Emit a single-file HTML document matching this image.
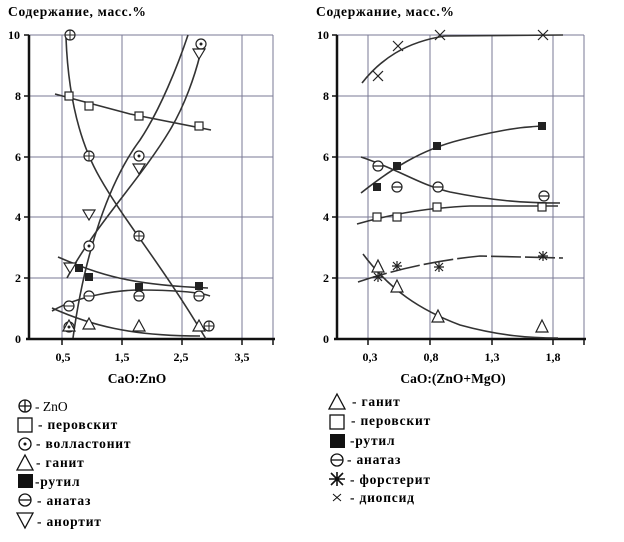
<!DOCTYPE html>
<html><head><meta charset="utf-8"><style>
html,body{margin:0;padding:0;background:#fff;}
svg{display:block;font-family:"Liberation Serif",serif;font-weight:bold;}
</style></head><body>
<svg width="624" height="542" viewBox="0 0 624 542" xmlns="http://www.w3.org/2000/svg">
<g font-size="13.5" fill="#000" letter-spacing="0.7">
<text x="8" y="16">Содержание, масс.%</text>
<text x="316" y="16">Содержание, масс.%</text>
</g>
<!-- LEFT grid -->
<g stroke="#7a7a95" stroke-width="1" fill="none">
<line x1="29" y1="35" x2="273" y2="35"/><line x1="29" y1="96" x2="273" y2="96"/><line x1="29" y1="157" x2="273" y2="157"/><line x1="29" y1="217" x2="273" y2="217"/><line x1="29" y1="278" x2="273" y2="278"/>
<line x1="62" y1="35" x2="62" y2="339"/><line x1="122" y1="35" x2="122" y2="339"/><line x1="182" y1="35" x2="182" y2="339"/><line x1="242" y1="35" x2="242" y2="339"/><line x1="273" y1="35" x2="273" y2="339"/>
</g>
<g stroke="#111" stroke-width="2.5" fill="none">
<line x1="29" y1="35" x2="29" y2="340"/><line x1="26" y1="339" x2="275" y2="339"/>
</g>
<g stroke="#111" stroke-width="1.5">
<line x1="24" y1="35" x2="29" y2="35"/><line x1="24" y1="96" x2="29" y2="96"/><line x1="24" y1="157" x2="29" y2="157"/><line x1="24" y1="217" x2="29" y2="217"/><line x1="24" y1="278" x2="29" y2="278"/>
<line x1="62" y1="339" x2="62" y2="345"/><line x1="122" y1="339" x2="122" y2="345"/><line x1="182" y1="339" x2="182" y2="345"/><line x1="242" y1="339" x2="242" y2="345"/><line x1="273" y1="339" x2="273" y2="345"/>
</g>
<g font-size="12" text-anchor="end">
<text x="20" y="39">10</text><text x="21" y="100">8</text><text x="21" y="161">6</text><text x="21" y="221">4</text><text x="21" y="282">2</text><text x="21" y="343">0</text>
</g>
<g font-size="12" text-anchor="middle">
<text x="63" y="361">0,5</text><text x="122" y="361">1,5</text><text x="181" y="361">2,5</text><text x="242" y="361">3,5</text>
<text x="137" y="383" font-size="13.5">CaO:ZnO</text>
</g>
<!-- left curves -->
<g stroke="#333" stroke-width="1.6" fill="none">
<path d="M66,38 C68,90 78,140 100,178 C125,222 160,262 206,339"/>
<path d="M55,94 L130,114 L211,130"/>
<path d="M73,338 C85,250 110,180 140,140 C160,110 178,65 188,35"/>
<path d="M67,278 C95,225 140,180 170,130 C185,105 195,75 200,55"/>
<path d="M58,257 C100,275 130,285 208,288"/>
<path d="M52,311 C80,295 120,290 140,290 C170,290 200,292 210,296"/>
<path d="M52,308 C90,325 130,336 200,336"/>
</g>
<!-- left markers -->
<g stroke="#222" stroke-width="1.2" fill="#fff">
<circle cx="70" cy="35" r="5"/><circle cx="89" cy="156" r="5"/><circle cx="139" cy="236" r="5"/><circle cx="209" cy="326" r="5"/>
<rect x="65" y="92" width="8" height="8"/><rect x="85" y="102" width="8" height="8"/><rect x="135" y="112" width="8" height="8"/><rect x="195" y="122" width="8" height="8"/>
<circle cx="201" cy="44" r="5"/><circle cx="139" cy="156" r="5"/><circle cx="89" cy="246" r="5"/><circle cx="69" cy="327" r="5"/>
<path d="M64,263 L76,263 L70,273 Z"/><path d="M83,210 L95,210 L89,220 Z"/><path d="M133,164 L145,164 L139,174 Z"/><path d="M193,49 L205,49 L199,59 Z"/>
<circle cx="69" cy="306" r="5"/><circle cx="89" cy="296" r="5"/><circle cx="139" cy="296" r="5"/><circle cx="199" cy="296" r="5"/>
<path d="M69,320 L75,331 L63,331 Z"/><path d="M89,318 L95,329 L83,329 Z"/><path d="M139,320 L145,331 L133,331 Z"/><path d="M199,320 L205,331 L193,331 Z"/>
</g>
<g fill="#222"><rect x="75" y="264" width="8" height="8"/><rect x="85" y="273" width="8" height="8"/><rect x="135" y="283" width="8" height="8"/><rect x="195" y="282" width="8" height="8"/>
<circle cx="201" cy="44" r="1.5"/><circle cx="139" cy="156" r="1.5"/><circle cx="89" cy="246" r="1.5"/><circle cx="69" cy="327" r="1.5"/></g>
<g stroke="#222" stroke-width="1"><path d="M65,35h10M70,30v10M84,156h10M89,151v10M134,236h10M139,231v10M204,326h10M209,321v10"/>
<path d="M64,306h10M84,296h10M134,296h10M194,296h10"/></g>

<!-- RIGHT grid -->
<g stroke="#7a7a95" stroke-width="1" fill="none">
<line x1="337" y1="35" x2="584" y2="35"/><line x1="337" y1="96" x2="584" y2="96"/><line x1="337" y1="157" x2="584" y2="157"/><line x1="337" y1="217" x2="584" y2="217"/><line x1="337" y1="278" x2="584" y2="278"/>
<line x1="368" y1="35" x2="368" y2="339"/><line x1="430" y1="35" x2="430" y2="339"/><line x1="492" y1="35" x2="492" y2="339"/><line x1="553" y1="35" x2="553" y2="339"/><line x1="584" y1="35" x2="584" y2="339"/>
</g>
<g stroke="#111" stroke-width="2.5" fill="none">
<line x1="337" y1="35" x2="337" y2="340"/><line x1="334" y1="339" x2="586" y2="339"/>
</g>
<g stroke="#111" stroke-width="1.5">
<line x1="332" y1="35" x2="337" y2="35"/><line x1="332" y1="96" x2="337" y2="96"/><line x1="332" y1="157" x2="337" y2="157"/><line x1="332" y1="217" x2="337" y2="217"/><line x1="332" y1="278" x2="337" y2="278"/>
<line x1="368" y1="339" x2="368" y2="345"/><line x1="430" y1="339" x2="430" y2="345"/><line x1="492" y1="339" x2="492" y2="345"/><line x1="553" y1="339" x2="553" y2="345"/><line x1="584" y1="339" x2="584" y2="345"/>
</g>
<g font-size="12" text-anchor="end">
<text x="329" y="39">10</text><text x="329" y="100">8</text><text x="329" y="161">6</text><text x="329" y="221">4</text><text x="329" y="282">2</text><text x="329" y="343">0</text>
</g>
<g font-size="12" text-anchor="middle">
<text x="370" y="361">0,3</text><text x="431" y="361">0,8</text><text x="492" y="361">1,3</text><text x="553" y="361">1,8</text>
<text x="453" y="383" font-size="13.5">CaO:(ZnO+MgO)</text>
</g>
<g stroke="#333" stroke-width="1.6" fill="none">
<path d="M362,83 C380,60 405,42 445,36 L563,35"/>
<path d="M361,193 C390,170 420,150 460,140 C500,130 520,127 542,126"/>
<path d="M361,157 C400,170 420,185 450,192 C490,200 520,203 560,203"/>
<path d="M357,224 C400,212 430,208 470,206 L558,206"/>
<path d="M358,282 C400,268 440,260 480,256 L563,258" stroke-dasharray="30,4"/>
<path d="M363,254 C390,290 420,310 460,325 C500,336 530,338 558,338"/>
</g>
<g stroke="#222" stroke-width="1.2" fill="#fff">
<path d="M373,71l10,10M383,71l-10,10M393,41l10,10M403,41l-10,10M435,30l10,10M445,30l-10,10M538,30l10,10M548,30l-10,10"/>
<circle cx="378" cy="166" r="5"/><circle cx="397" cy="187" r="5"/><circle cx="438" cy="187" r="5"/><circle cx="544" cy="196" r="5"/>
<rect x="373" y="213" width="8" height="8"/><rect x="393" y="213" width="8" height="8"/><rect x="433" y="203" width="8" height="8"/><rect x="538" y="203" width="8" height="8"/>
<path d="M378,260 L384,272 L372,272 Z"/><path d="M397,280 L403,292 L391,292 Z"/><path d="M438,310 L444,322 L432,322 Z"/><path d="M542,320 L548,332 L536,332 Z"/>
<path d="M373,166h10M392,187h10M433,187h10M539,196h10"/>
<path d="M373,277h10M378,272v10M374,273l8,8M382,273l-8,8M392,266h10M397,261v10M393,262l8,8M401,262l-8,8M434,267h10M439,262v10M435,263l8,8M443,263l-8,8M538,256h10M543,251v10M539,252l8,8M547,252l-8,8"/>
</g>
<g fill="#222"><rect x="373" y="183" width="8" height="8"/><rect x="393" y="162" width="8" height="8"/><rect x="433" y="142" width="8" height="8"/><rect x="538" y="122" width="8" height="8"/></g>

<!-- LEFT legend -->
<g stroke="#111" stroke-width="1.3" fill="#fff">
<circle cx="25" cy="406" r="6"/><path d="M19,406h12M25,400v12"/>
<rect x="18" y="418" width="14" height="14"/>
<circle cx="25" cy="444" r="6"/>
<path d="M25,455 L33,470 L17,470 Z"/>
<circle cx="25" cy="500" r="6"/><path d="M19,500h12"/>
<path d="M17,513 L33,513 L25,528 Z"/>
</g>
<circle cx="25" cy="444" r="1.5" fill="#111"/>
<rect x="18" y="474" width="15" height="14" fill="#111"/>
<g font-size="13.5" letter-spacing="0.8">
<text x="35" y="411" font-weight="normal" letter-spacing="0">- ZnO</text>
<text x="38" y="429">- перовскит</text>
<text x="36" y="448">- волластонит</text>
<text x="36" y="467">- ганит</text>
<text x="35" y="486">-рутил</text>
<text x="37" y="505">- анатаз</text>
<text x="37" y="526">- анортит</text>
</g>
<!-- RIGHT legend -->
<g stroke="#111" stroke-width="1.3" fill="#fff">
<path d="M337,394 L345,409 L329,409 Z"/>
<rect x="330" y="415" width="14" height="14"/>
<circle cx="337" cy="460" r="6"/><path d="M331,460h12"/>
<path d="M329,479h16M337,472v14M331,473l12,12M343,473l-12,12" stroke-width="1.6"/>
<path d="M333,494l8,7M341,494l-8,7" stroke-width="1"/>
</g>
<rect x="330" y="434" width="15" height="14" fill="#111"/>
<g font-size="13.5" letter-spacing="0.8">
<text x="352" y="406">- ганит</text>
<text x="351" y="425">- перовскит</text>
<text x="350" y="445">-рутил</text>
<text x="347" y="464">- анатаз</text>
<text x="350" y="484">- форстерит</text>
<text x="350" y="502">- диопсид</text>
</g>
</svg>
</body></html>
